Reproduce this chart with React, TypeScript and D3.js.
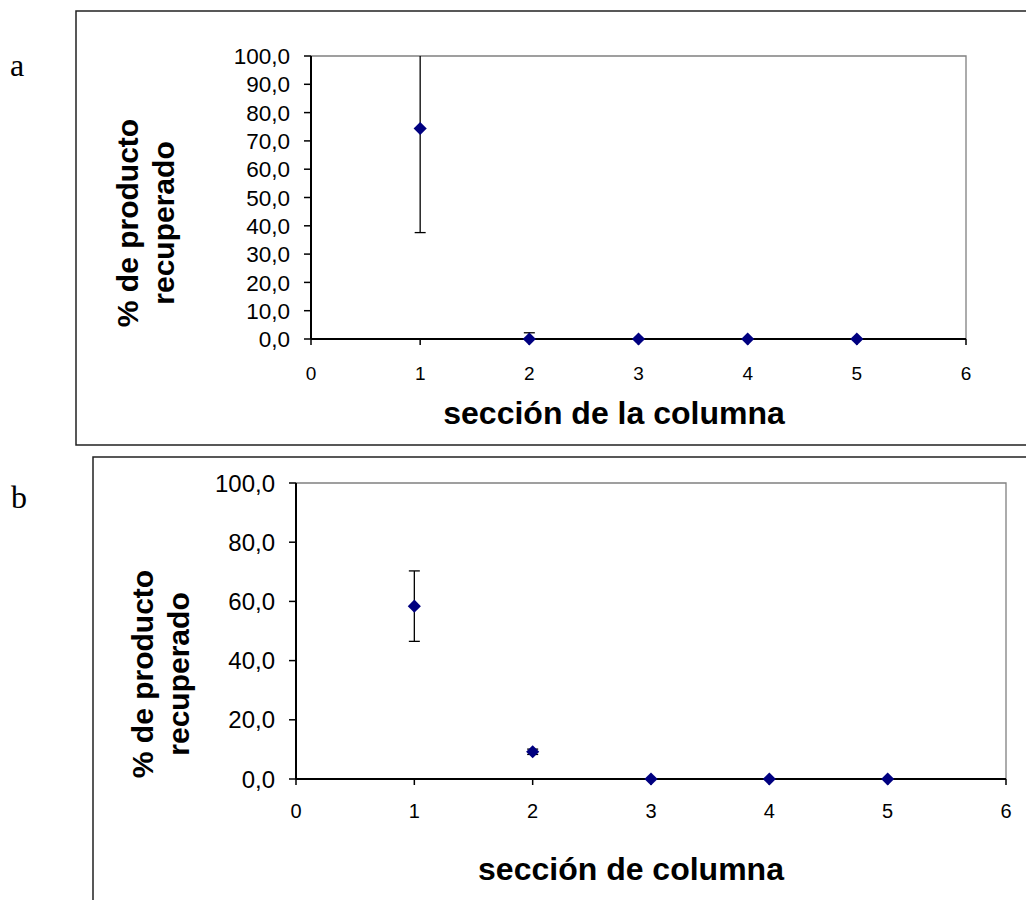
import React from "react";
import * as d3 from "d3";

// ---- Data ----
const sectionsA = [1, 2, 3, 4, 5];
const valuesA = [74.4, 0.0, 0.0, 0.0, 0.0];
const errorsA = [36.8, 2.2, 0, 0, 0];

const sectionsB = [1, 2, 3, 4, 5];
const valuesB = [58.4, 9.2, 0.0, 0.0, 0.0];
const errorsB = [11.9, 0.9, 0, 0, 0];

const xTicks = [0, 1, 2, 3, 4, 5, 6];
const yTicksA = [0, 10, 20, 30, 40, 50, 60, 70, 80, 90, 100];
const yTicksB = [0, 20, 40, 60, 80, 100];

const fmt = (v: number) => v.toFixed(1).replace(".", ",");

const FONT = "'Liberation Sans', Arial, sans-serif";
const NAVY = "#000080";

type PanelProps = {
  left: number; right: number; top: number; bottom: number;
  xs: number[]; ys: number[]; errs: number[]; yTicks: number[];
  yFont: number; xFont: number; xLabelOff: number;
  xTitle: string; xTitleY: number; xTitleX: number;
  yTitleX1: number; yTitleX2: number; yTitleY: number;
};

function Panel(p: PanelProps) {
  const x = d3.scaleLinear().domain([0, 6]).range([p.left, p.right]);
  const y = d3.scaleLinear().domain([0, 100]).range([p.bottom, p.top]);
  const clipY = (v: number) => y(Math.min(100, Math.max(0, v)));
  const diamond = d3.symbol().type(d3.symbolDiamond2).size(110)();
  return (
    <g>
      {/* plot area border */}
      <path d={`M${p.left},${p.top}H${p.right}V${p.bottom}`} fill="none" stroke="#808080" strokeWidth={1.3} />
      {/* axes */}
      <line x1={p.left} x2={p.left} y1={p.top} y2={p.bottom} stroke="#000" strokeWidth={2} />
      <line x1={p.left} x2={p.right} y1={p.bottom} y2={p.bottom} stroke="#000" strokeWidth={2} />
      {p.yTicks.map((t) => (
        <g key={"y" + t}>
          <line x1={p.left - 7} x2={p.left} y1={y(t)} y2={y(t)} stroke="#000" strokeWidth={1.5} />
          <text x={p.left - 21} y={y(t)} dy="0.36em" textAnchor="end" fontFamily={FONT} fontSize={p.yFont} fill="#000">{fmt(t)}</text>
        </g>
      ))}
      {xTicks.map((t) => (
        <g key={"x" + t}>
          <line x1={x(t)} x2={x(t)} y1={p.bottom} y2={p.bottom + 6} stroke="#000" strokeWidth={1.5} />
          <text x={x(t)} y={p.bottom + p.xLabelOff} dy="0.36em" textAnchor="middle" fontFamily={FONT} fontSize={p.xFont} fill="#000">{t}</text>
        </g>
      ))}
      {/* error bars */}
      {p.xs.map((s, i) => {
        if (!p.errs[i]) return null;
        const hi = p.ys[i] + p.errs[i];
        const lo = p.ys[i] - p.errs[i];
        const cx = x(s);
        return (
          <g key={"e" + i} stroke="#000" strokeWidth={1.3}>
            <line x1={cx} x2={cx} y1={clipY(hi)} y2={clipY(lo)} />
            {hi <= 100 && <line x1={cx - 5.5} x2={cx + 5.5} y1={y(hi)} y2={y(hi)} />}
            {lo >= 0 && <line x1={cx - 5.5} x2={cx + 5.5} y1={y(lo)} y2={y(lo)} />}
          </g>
        );
      })}
      {p.xs.map((s, i) => (
        <path key={"m" + i} d={diamond!} transform={`translate(${x(s)},${y(p.ys[i])})`} fill={NAVY} />
      ))}
      <text x={p.xTitleX} y={p.xTitleY} dy="0.36em" textAnchor="middle" fontFamily={FONT} fontWeight="bold" fontSize={32} fill="#000">{p.xTitle}</text>
      <text transform={`translate(${p.yTitleX1},${p.yTitleY}) rotate(-90)`} dy="0.36em" textAnchor="middle" fontFamily={FONT} fontWeight="bold" fontSize={30} fill="#000">% de producto</text>
      <text transform={`translate(${p.yTitleX2},${p.yTitleY}) rotate(-90)`} dy="0.36em" textAnchor="middle" fontFamily={FONT} fontWeight="bold" fontSize={30} fill="#000">recuperado</text>
    </g>
  );
}

export default function App() {
  return (
    <svg width={1026} height={900} style={{ position: "absolute", left: 0, top: 0, background: "#fff" }}>
      <rect x={0} y={0} width={1026} height={900} fill="#fff" />
      {/* panel a frame */}
      <path d="M1026,11H76V445H1026" fill="none" stroke="#222" strokeWidth={1.5} />
      <text x={10} y={76} fontFamily="'Liberation Serif', 'Times New Roman', serif" fontSize={32} fill="#000">a</text>
      <Panel left={311} right={966} top={56} bottom={339} xs={sectionsA} ys={valuesA} errs={errorsA}
        yTicks={yTicksA} yFont={22.5} xFont={19} xLabelOff={34} xTitle="sección de la columna" xTitleX={614} xTitleY={412}
        yTitleX1={127} yTitleX2={163} yTitleY={223} />
      {/* panel b frame */}
      <path d="M1026,457H93V900" fill="none" stroke="#222" strokeWidth={1.5} />
      <text x={11} y={508} fontFamily="'Liberation Serif', 'Times New Roman', serif" fontSize={32} fill="#000">b</text>
      <Panel left={296} right={1006} top={483} bottom={779} xs={sectionsB} ys={valuesB} errs={errorsB}
        yTicks={yTicksB} yFont={24} xFont={20} xLabelOff={32} xTitle="sección de columna" xTitleX={631} xTitleY={868}
        yTitleX1={142} yTitleX2={178} yTitleY={674} />
    </svg>
  );
}
